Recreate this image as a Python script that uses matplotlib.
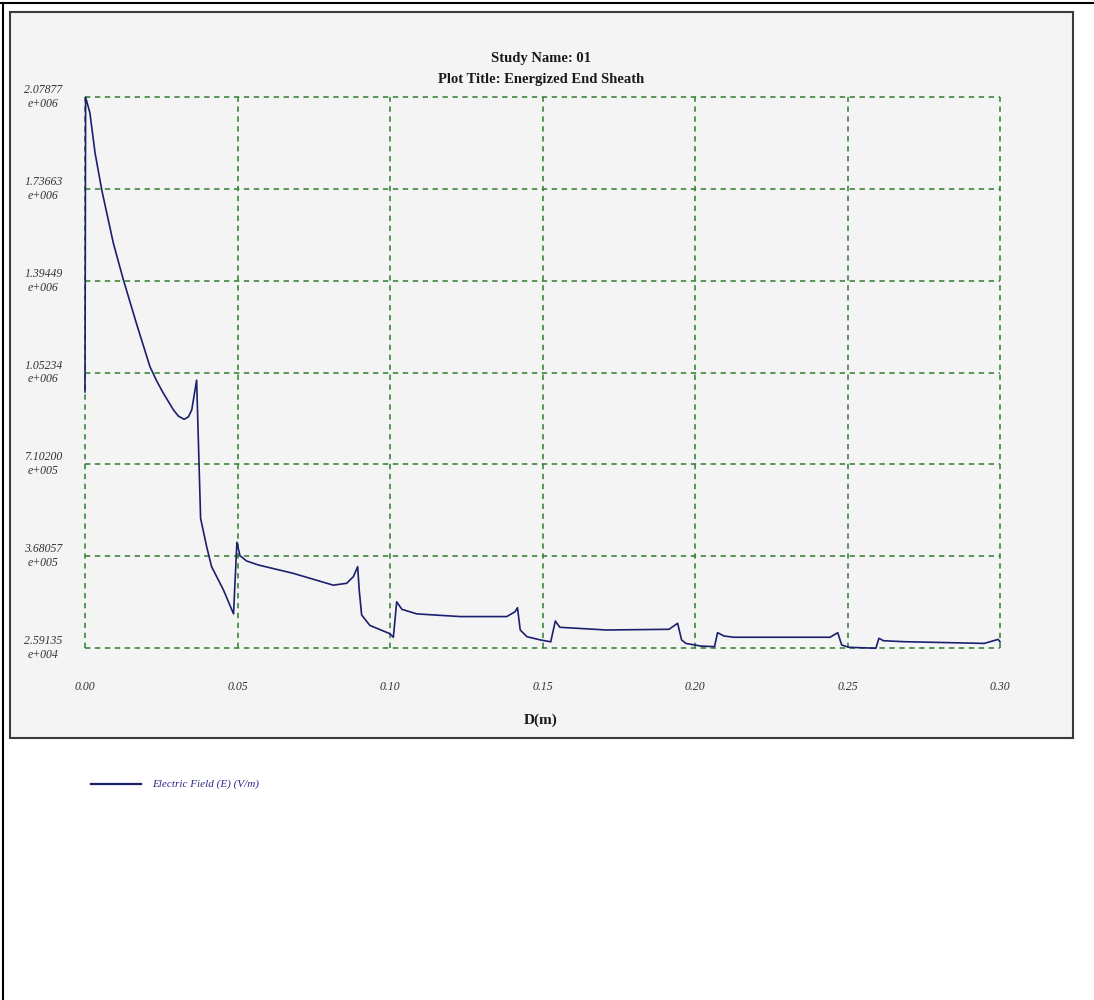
import matplotlib
matplotlib.use('Agg')
import matplotlib.pyplot as plt
from matplotlib.patches import Rectangle
from matplotlib.lines import Line2D

plt.rcParams['font.family'] = ['Liberation Serif', 'DejaVu Serif']

# 読み取ったデータ（D[m] と電界 E[V/m]）
d_m = [0.0, 0.0002, 0.0016, 0.0033, 0.0055, 0.0093, 0.0126, 0.0170, 0.0213, 0.0235,
       0.0257, 0.0290, 0.0306, 0.0325, 0.0339, 0.0350, 0.0366, 0.0379, 0.0399, 0.0415,
       0.0454, 0.0487, 0.0498, 0.0508, 0.0530, 0.0569, 0.0683, 0.0814, 0.0858, 0.0880,
       0.0894, 0.0899, 0.0907, 0.0934, 0.1000, 0.1011, 0.1022, 0.1039, 0.1088, 0.1230,
       0.1383, 0.1410, 0.1418, 0.1427, 0.1449, 0.1493, 0.1527, 0.1542, 0.1557, 0.1710,
       0.1915, 0.1943, 0.1956, 0.1970, 0.2020, 0.2064, 0.2074, 0.2095, 0.2127, 0.2443,
       0.2468, 0.2481, 0.2506, 0.2593, 0.2603, 0.2618, 0.2686, 0.2948, 0.2994, 0.3000]
e_field = [9.80e5, 2.078e6, 2.02e6, 1.87e6, 1.732e6, 1.534e6, 1.397e6, 1.230e6, 1.074e6, 1.021e6,
           9.75e5, 9.13e5, 8.90e5, 8.78e5, 8.87e5, 9.13e5, 1.024e6, 5.09e5, 4.03e5, 3.29e5,
           2.42e5, 1.53e5, 4.20e5, 3.70e5, 3.50e5, 3.35e5, 3.04e5, 2.60e5, 2.67e5, 2.92e5,
           3.29e5, 2.42e5, 1.49e5, 1.10e5, 7.9e4, 6.6e4, 1.98e5, 1.70e5, 1.53e5, 1.43e5,
           1.43e5, 1.61e5, 1.76e5, 9.3e4, 6.8e4, 5.6e4, 4.9e4, 1.265e5, 1.03e5, 9.3e4,
           9.56e4, 1.18e5, 5.6e4, 4.3e4, 3.3e4, 3.1e4, 8.3e4, 7.06e4, 6.6e4, 6.6e4,
           8.3e4, 3.7e4, 2.84e4, 2.5e4, 6.2e4, 5.3e4, 4.94e4, 4.3e4, 5.8e4, 4.9e4]

x_ticks = [0.00, 0.05, 0.10, 0.15, 0.20, 0.25, 0.30]
x_labels = ['0.00', '0.05', '0.10', '0.15', '0.20', '0.25', '0.30']
y_ticks = [2.59135e4, 3.68057e5, 7.10200e5, 1.05234e6, 1.39449e6, 1.73663e6, 2.07877e6]
y_labels = ['2.59135\ne+004', '3.68057\ne+005', '7.10200\ne+005', '1.05234\ne+006',
            '1.39449\ne+006', '1.73663\ne+006', '2.07877\ne+006']

W, H = 1094, 1000
fig = plt.figure(figsize=(W / 100, H / 100), dpi=100)
fig.patch.set_facecolor('white')

def fx(px):
    return px / W

def fy(py):
    return 1 - py / H

# 外枠と灰色パネル
fig.add_artist(Line2D([0, 1], [fy(3), fy(3)], transform=fig.transFigure, color='black', lw=1.5))
fig.add_artist(Line2D([fx(3), fx(3)], [0, fy(3)], transform=fig.transFigure, color='black', lw=1.5))
fig.add_artist(Rectangle((fx(10), fy(738)), fx(1073) - fx(10), fy(12) - fy(738),
                         transform=fig.transFigure, facecolor='#f4f4f4', edgecolor='#3a3a3a',
                         lw=1.5, zorder=0))

ax = fig.add_axes([fx(85), fy(648), fx(1000) - fx(85), fy(97) - fy(648)])
ax.set_facecolor('none')
ax.plot(d_m, e_field, color='#1c1f6e', lw=1.2, clip_on=False, zorder=3)
ax.set_xlim(0, 0.30)
ax.set_ylim(y_ticks[0], y_ticks[-1])

for s in ax.spines.values():
    s.set_visible(False)

ax.set_xticks(x_ticks)
ax.set_xticklabels(x_labels, fontstyle='italic', fontsize=8.5, color='#333333')
ax.set_yticks(y_ticks)
ax.set_yticklabels(y_labels, fontstyle='italic', fontsize=8.5, color='#333333',
                   ha='center', va='center', multialignment='center')
ax.tick_params(axis='both', length=0)
ax.tick_params(axis='y', pad=30)
ax.tick_params(axis='x', pad=24)

ax.grid(True, color='#2e7d2e', linestyle=(0, (3.5, 3)), lw=1.1)
for gl in ax.get_xgridlines() + ax.get_ygridlines():
    gl.set_clip_on(False)

fig.text(fx(541), fy(59), 'Study Name: 01', ha='center', va='center',
         fontsize=10.5, fontweight='bold', color='#1a1a1a')
fig.text(fx(541), fy(80), 'Plot Title: Energized End Sheath', ha='center', va='center',
         fontsize=10.5, fontweight='bold', color='#1a1a1a')
fig.text(fx(541), fy(720), 'D(m)', ha='center', va='center',
         fontsize=11, fontweight='bold', color='#1a1a1a')

# 凡例
fig.add_artist(Line2D([fx(91), fx(141)], [fy(784), fy(784)], transform=fig.transFigure,
                      color='#1c1f6e', lw=1.6))
fig.text(fx(152), fy(784), 'Electric Field (E) (V/m)', ha='left', va='center',
         fontsize=8, fontstyle='italic', color='#2a2a8a')

fig.savefig('out.png', dpi=100)
